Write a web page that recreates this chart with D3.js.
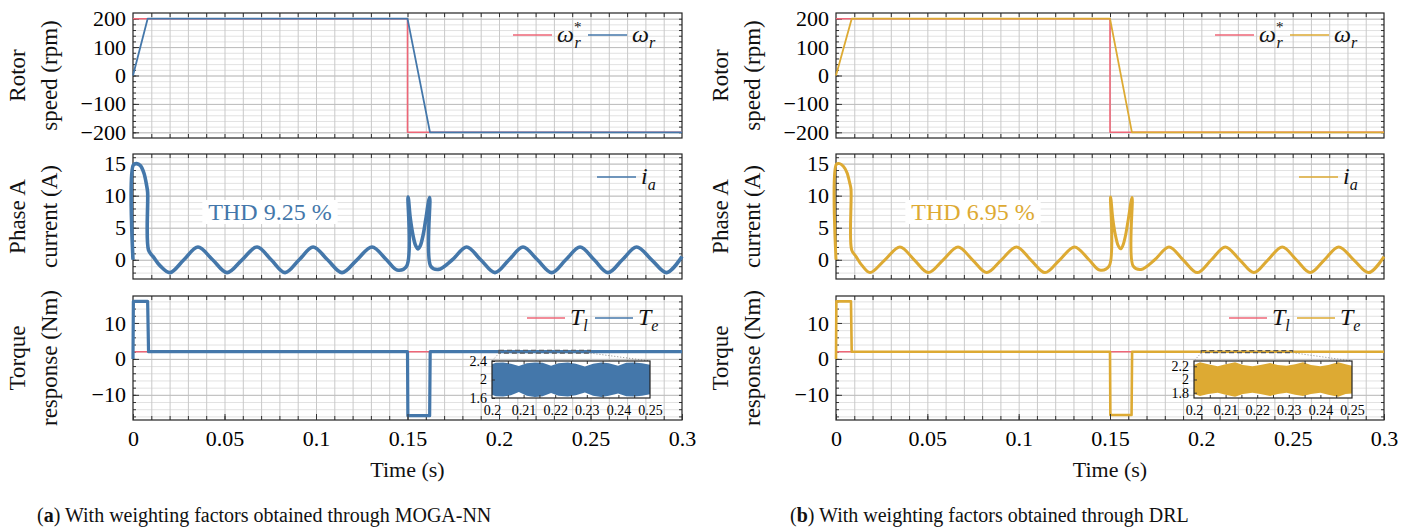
<!DOCTYPE html>
<html>
<head>
<meta charset="utf-8">
<script src="https://cdn.jsdelivr.net/npm/d3@7"></script>
<style>
body { margin: 0; background: #fff; }
</style>
</head>
<body>
<svg width="1414" height="530"></svg>
<script>
// ---- data ----
const speedRefT = [0, 0.15, 0.15, 0.3];
const speedRef = [200, 200, -200, -200];

const speedT_a = [0, 0.008, 0.15, 0.1623, 0.3];
const speed_a = [0, 200, 200, -200, -200];
const speedT_b = [0, 0.0086, 0.15, 0.162, 0.3];
const speed_b = [0, 200, 200, -200, -200];

const curT_a = [0, 0.0002, 0.002, 0.004, 0.006, 0.0075, 0.008, 0.0085, 0.011, 0.015, 0.0202, 0.0278, 0.0355,
  0.0435, 0.0514, 0.0596, 0.0678, 0.0755, 0.0831, 0.0908, 0.0984, 0.1063, 0.1142, 0.1224, 0.1306, 0.1385,
  0.1443, 0.1495, 0.1503, 0.1515, 0.153, 0.1545, 0.1558, 0.157, 0.1585, 0.16, 0.1621, 0.1627, 0.167,
  0.1745, 0.1823, 0.19, 0.1978, 0.2055, 0.2131, 0.221, 0.2288, 0.2365, 0.2443, 0.252, 0.2596, 0.2674,
  0.2752, 0.2834, 0.2916, 0.3];
const cur_a = [0, 14.8, 15.0, 14.7, 13.5, 11.5, 10.5, 1.5, 0.5, -1.0, -2.0, 0, 2.0,
  0, -2.0, 0, 2.0, 0, -2.0, 0, 2.0, 0, -2.0, 0, 2.0, 0,
  -1.6, -1.0, 9.8, 6.5, 3.8, 2.2, 1.7, 2.2, 3.8, 6.3, 9.7, -1.0, -1.5,
  0, 2.0, 0, -2.0, 0, 2.0, 0, -2.0, 0, 2.0, 0, -2.0, 0,
  2.0, 0, -2.0, 0.5];

const curT_b = [0, 0.0002, 0.002, 0.004, 0.006, 0.0075, 0.0082, 0.0086, 0.011, 0.014, 0.0186, 0.0268, 0.035,
  0.0428, 0.0505, 0.0587, 0.0668, 0.0747, 0.0825, 0.0906, 0.0988, 0.1066, 0.1144, 0.1225, 0.1306, 0.1385,
  0.1443, 0.1495, 0.1503, 0.1515, 0.153, 0.1545, 0.1558, 0.157, 0.1585, 0.16, 0.1621, 0.1627, 0.167,
  0.1745, 0.1823, 0.19, 0.1978, 0.2055, 0.2131, 0.221, 0.2288, 0.2365, 0.2443, 0.252, 0.2596, 0.2674,
  0.2752, 0.2834, 0.2916, 0.3];
const cur_b = [0, 14.9, 15.0, 14.6, 13.6, 12.0, 11.0, 1.5, 0.5, -0.8, -2.0, 0, 2.0,
  0, -2.0, 0, 2.0, 0, -2.0, 0, 2.0, 0, -2.0, 0, 2.0, 0,
  -1.6, -1.0, 9.8, 6.5, 3.8, 2.2, 1.7, 2.2, 3.8, 6.3, 9.7, -1.0, -1.5,
  0, 2.0, 0, -2.0, 0, 2.0, 0, -2.0, 0, 2.0, 0, -2.0, 0,
  2.0, 0, -2.0, 0.5];

const loadT = [0, 0.3];
const load = [2, 2];

const teT_a = [0, 0.0002, 0.008, 0.0085, 0.15, 0.1502, 0.1621, 0.1624, 0.3];
const te_a = [0, 16, 16, 2, 2, -15.8, -15.8, 2, 2];
const teT_b = [0, 0.0002, 0.0082, 0.0086, 0.15, 0.1502, 0.1618, 0.1621, 0.3];
const te_b = [0, 16, 16, 2, 2, -15.6, -15.6, 2, 2];

// zoomed torque ripple: upper / lower envelope
const zoomT_a = [0.2, 0.2012, 0.2035, 0.206, 0.2085, 0.211, 0.2136, 0.216, 0.2187, 0.221, 0.224, 0.2265,
  0.2294, 0.232, 0.2346, 0.237, 0.2399, 0.2425, 0.245, 0.2475, 0.25];
const zoomHi_a = [2.33, 2.36, 2.37, 2.34, 2.29, 2.35, 2.37, 2.36, 2.30, 2.35, 2.37, 2.34,
  2.28, 2.34, 2.37, 2.35, 2.30, 2.36, 2.37, 2.35, 2.32];
const zoomLo_a = [1.67, 1.64, 1.63, 1.66, 1.73, 1.65, 1.62, 1.64, 1.71, 1.65, 1.63, 1.66,
  1.72, 1.65, 1.62, 1.65, 1.70, 1.64, 1.63, 1.65, 1.68];
const zoomT_b = [0.2, 0.2019, 0.2045, 0.2075, 0.21, 0.213, 0.2155, 0.2185, 0.221, 0.2241, 0.2265,
  0.2293, 0.232, 0.2345, 0.237, 0.24, 0.2425, 0.2456, 0.248, 0.25];
const zoomHi_b = [2.22, 2.26, 2.23, 2.20, 2.23, 2.26, 2.22, 2.20, 2.22, 2.25, 2.22,
  2.21, 2.23, 2.26, 2.22, 2.20, 2.22, 2.26, 2.23, 2.21];
const zoomLo_b = [1.78, 1.75, 1.78, 1.80, 1.77, 1.74, 1.78, 1.80, 1.78, 1.75, 1.78,
  1.80, 1.77, 1.75, 1.78, 1.80, 1.77, 1.74, 1.78, 1.79];

const xTicks = [0, 0.05, 0.1, 0.15, 0.2, 0.25, 0.3];
const speedTicks = [-200, -100, 0, 100, 200];
const curTicks = [0, 5, 10, 15];
const torqTicks = [-10, 0, 10];
const zoomXTicks = [0.2, 0.21, 0.22, 0.23, 0.24, 0.25];
const zoomYTicks_a = [1.6, 2, 2.4];
const zoomYTicks_b = [1.8, 2, 2.2];

const C = { blue: "#4477aa", red: "#ee6677", gold: "#ddaa33" };
const FONT = "Liberation Serif";
const svg = d3.select("svg");
const fmt = d => d < 0 ? "\u2212" + (-d) : String(d);
const rows = { speed: [13, 138], cur: [154, 279], torq: [296, 420] };

function strip(s) { s.select(".domain").remove(); }
function serif(s, size) {
  s.attr("font-family", FONT).attr("font-size", size).attr("fill", "#111");
}

function panel(g, x, dom, rng, majors, step, label) {
  const [top, bot] = rng;
  const y = d3.scaleLinear().domain(dom).range([bot, top]);
  const [x0, x1] = x.range();
  const w = x1 - x0, h = bot - top;
  const minors = d3.range(Math.ceil(dom[0] / step), Math.floor(dom[1] / step) + 1)
    .map(i => +(i * step).toFixed(6))
    .filter(v => y(v) > top + 1 && y(v) < bot - 1);
  const xMin = d3.range(1, 30).map(i => +(i * 0.01).toFixed(3));

  // grid
  g.append("g").attr("transform", `translate(${x0},0)`)
    .call(d3.axisLeft(y).tickValues(minors).tickSize(-w).tickFormat(""))
    .call(strip).selectAll("line").attr("stroke", "#e2e2e2");
  g.append("g").attr("transform", `translate(0,${bot})`)
    .call(d3.axisBottom(x).tickValues(xMin).tickSize(-h).tickFormat(""))
    .call(strip).selectAll("line").attr("stroke", "#c9c9c9");
  g.append("g").attr("transform", `translate(${x0},0)`)
    .call(d3.axisLeft(y).tickValues(majors.filter(v => y(v) > top + 1 && y(v) < bot - 1)).tickSize(-w).tickFormat(""))
    .call(strip).selectAll("line").attr("stroke", "#bdbdbd");

  // inward ticks
  const tk = (axis, tr) => g.append("g").attr("transform", tr).call(axis).call(strip)
    .selectAll("line").attr("stroke", "#333");
  tk(d3.axisLeft(y).tickValues(minors).tickSize(-3).tickFormat(""), `translate(${x0},0)`);
  tk(d3.axisRight(y).tickValues(minors).tickSize(-3).tickFormat(""), `translate(${x1},0)`);
  tk(d3.axisBottom(x).tickValues(xMin).tickSize(-4).tickFormat(""), `translate(0,${bot})`);
  tk(d3.axisTop(x).tickValues(xMin).tickSize(-4).tickFormat(""), `translate(0,${top})`);

  // y labels
  g.append("g").attr("transform", `translate(${x0},0)`)
    .call(d3.axisLeft(y).tickValues(majors).tickSize(-6).tickPadding(7).tickFormat(fmt))
    .call(strip)
    .call(s => s.selectAll("line").attr("stroke", "#333"))
    .call(serif, 22);

  // axis title
  const cy = (top + bot) / 2;
  label.forEach((t, i) => {
    g.append("text")
      .attr("transform", `translate(${x0 - 116 + i * 32},${cy}) rotate(-90)`)
      .attr("text-anchor", "middle").attr("dy", "0.35em")
      .attr("font-family", FONT).attr("font-size", 23).attr("fill", "#111").text(t);
  });

  g.append("rect").attr("x", x0).attr("y", top).attr("width", w).attr("height", h)
    .attr("fill", "none").attr("stroke", "#222").attr("stroke-width", 1.2);
  return y;
}

function series(g, x, y, T, V, color, width, curve) {
  const line = d3.line().x(i => x(T[i])).y(i => y(V[i])).curve(curve || d3.curveLinear);
  g.append("path").datum(d3.range(T.length)).attr("d", line)
    .attr("fill", "none").attr("stroke", color).attr("stroke-width", width)
    .attr("stroke-linejoin", "round");
}

function legend(g, x1, y, items) {
  items.forEach(it => {
    g.append("line").attr("x1", x1 + it.l0).attr("x2", x1 + it.l1).attr("y1", y).attr("y2", y)
      .attr("stroke", it.color).attr("stroke-width", 1.6);
    const t = g.append("text").attr("x", x1 + it.l1 + 5).attr("y", y + 7)
      .attr("font-family", FONT).attr("font-size", 24).attr("font-style", "italic").attr("fill", "#111");
    t.append("tspan").text(it.base);
    if (it.sup) t.append("tspan").attr("dy", -10).attr("font-size", 15).attr("font-style", "normal").text(it.sup);
    t.append("tspan").attr("dx", it.sup ? -7 : 0).attr("dy", it.sup ? 16 : 6).attr("font-size", 16).text(it.sub);
  });
}

function inset(g, x, yMain, dom, yTicks, T, hi, lo, color) {
  const [, x1] = x.range();
  const bx0 = x1 - 190, bx1 = x1 - 32, by0 = 361, by1 = 398;
  const xi = d3.scaleLinear().domain([0.2, 0.25]).range([bx0, bx1]);
  const yi = d3.scaleLinear().domain(dom).range([by1, by0]);

  g.append("rect").attr("x", x(0.2)).attr("y", yMain(dom[1]))
    .attr("width", x(0.25) - x(0.2)).attr("height", yMain(dom[0]) - yMain(dom[1]))
    .attr("fill", "none").attr("stroke", "#555").attr("stroke-width", 1.2).attr("stroke-dasharray", "5,3");
  g.append("line").attr("x1", x(0.2)).attr("y1", yMain(dom[0])).attr("x2", bx0).attr("y2", by0)
    .attr("stroke", "#888").attr("stroke-dasharray", "1,2");
  g.append("line").attr("x1", x(0.25)).attr("y1", yMain(dom[0])).attr("x2", bx1).attr("y2", by0)
    .attr("stroke", "#888").attr("stroke-dasharray", "1,2");

  g.append("rect").attr("x", bx0).attr("y", by0).attr("width", bx1 - bx0).attr("height", by1 - by0)
    .attr("fill", "#fff");
  const area = d3.area().x(i => xi(T[i])).y0(i => yi(lo[i])).y1(i => yi(hi[i]));
  g.append("path").datum(d3.range(T.length)).attr("d", area).attr("fill", color);

  const minor = d3.range(1, 10).map(i => +(0.2 + i * 0.005).toFixed(4));
  g.append("g").attr("transform", `translate(0,${by1})`)
    .call(d3.axisBottom(xi).tickValues(minor).tickSize(-3).tickFormat("")).call(strip)
    .selectAll("line").attr("stroke", "#333");
  g.append("g").attr("transform", `translate(0,${by0})`)
    .call(d3.axisTop(xi).tickValues(minor).tickSize(-3).tickFormat("")).call(strip)
    .selectAll("line").attr("stroke", "#333");
  g.append("g").attr("transform", `translate(0,${by1})`)
    .call(d3.axisBottom(xi).tickValues(zoomXTicks).tickSize(0).tickPadding(7).tickFormat(String))
    .call(strip).call(serif, 14);
  g.append("g").attr("transform", `translate(${bx0},0)`)
    .call(d3.axisLeft(yi).tickValues(yTicks).tickSize(-3).tickPadding(5).tickFormat(String))
    .call(strip)
    .call(s => s.selectAll("line").attr("stroke", "#333"))
    .call(serif, 14);
  g.append("rect").attr("x", bx0).attr("y", by0).attr("width", bx1 - bx0).attr("height", by1 - by0)
    .attr("fill", "none").attr("stroke", "#222").attr("stroke-width", 1.2);
}

function figure(o) {
  const g = svg.append("g");
  const x = d3.scaleLinear().domain([0, 0.3]).range([o.x0, o.x1]);

  const ys = panel(g, x, [-220, 220], rows.speed, speedTicks, 20, ["Rotor", "speed (rpm)"]);
  series(g, x, ys, speedRefT, speedRef, C.red, 1.6);
  series(g, x, ys, o.speedT, o.speed, o.color, 1.8);
  legend(g, o.x1, 35, [
    { l0: -169, l1: -130, color: C.red, base: "ω", sup: "*", sub: "r" },
    { l0: -94, l1: -55, color: o.color, base: "ω", sub: "r" }
  ]);

  const yc = panel(g, x, [-3, 16.5], rows.cur, curTicks, 1, ["Phase A", "current (A)"]);
  series(g, x, yc, o.curT, o.cur, o.color, o.curW, d3.curveCatmullRom.alpha(0.5));
  legend(g, o.x1, 177, [{ l0: -85, l1: -46, color: o.color, base: "i", sub: "a" }]);
  const lab = g.append("g");
  const txt = lab.append("text").attr("x", o.thdX).attr("y", 220).attr("text-anchor", "middle")
    .attr("font-family", FONT).attr("font-size", 24).attr("fill", o.color).text(o.thd);
  const bb = txt.node().getBBox();
  lab.insert("rect", "text").attr("x", bb.x - 6).attr("y", 200).attr("width", bb.width + 12).attr("height", 24)
    .attr("fill", "#fff");

  const yt = panel(g, x, [-17, 17.5], rows.torq, torqTicks, 2, ["Torque", "response (Nm)"]);
  series(g, x, yt, loadT, load, C.red, 1.6);
  series(g, x, yt, o.teT, o.te, o.color, o.teW);
  legend(g, o.x1, 318, [
    { l0: -155, l1: -117, color: C.red, base: "T", sub: "l" },
    { l0: -87, l1: -49, color: o.color, base: "T", sub: "e" }
  ]);
  inset(g, x, yt, o.zoomDom, o.zoomYTicks, o.zoomT, o.zoomHi, o.zoomLo, o.color);

  g.append("g").attr("transform", `translate(0,${rows.torq[1]})`)
    .call(d3.axisBottom(x).tickValues(xTicks).tickSize(-6).tickPadding(10).tickFormat(String))
    .call(strip)
    .call(s => s.selectAll("line").attr("stroke", "#333"))
    .call(serif, 22);

  g.append("text").attr("x", (o.x0 + o.x1) / 2).attr("y", 477).attr("text-anchor", "middle")
    .attr("font-family", FONT).attr("font-size", 22).attr("fill", "#111").text("Time (s)");

  const cap = g.append("text").attr("x", o.capX).attr("y", 522)
    .attr("font-family", FONT).attr("font-size", 20).attr("fill", "#111");
  cap.append("tspan").text("(");
  cap.append("tspan").attr("font-weight", "bold").text(o.capLetter);
  cap.append("tspan").text(") " + o.caption);
}

figure({
  x0: 133, x1: 682, color: C.blue,
  speedT: speedT_a, speed: speed_a,
  curT: curT_a, cur: cur_a, curW: 3.6,
  teT: teT_a, te: te_a, teW: 3.2,
  thd: "THD 9.25 %", thdX: 270,
  zoomDom: [1.6, 2.4], zoomYTicks: zoomYTicks_a, zoomT: zoomT_a, zoomHi: zoomHi_a, zoomLo: zoomLo_a,
  capX: 37, capLetter: "a", caption: "With weighting factors obtained through MOGA-NN"
});
figure({
  x0: 836, x1: 1384, color: C.gold,
  speedT: speedT_b, speed: speed_b,
  curT: curT_b, cur: cur_b, curW: 3.0,
  teT: teT_b, te: te_b, teW: 2.6,
  thd: "THD 6.95 %", thdX: 973,
  zoomDom: [1.72, 2.28], zoomYTicks: zoomYTicks_b, zoomT: zoomT_b, zoomHi: zoomHi_b, zoomLo: zoomLo_b,
  capX: 790, capLetter: "b", caption: "With weighting factors obtained through DRL"
});
</script>
</body>
</html>
